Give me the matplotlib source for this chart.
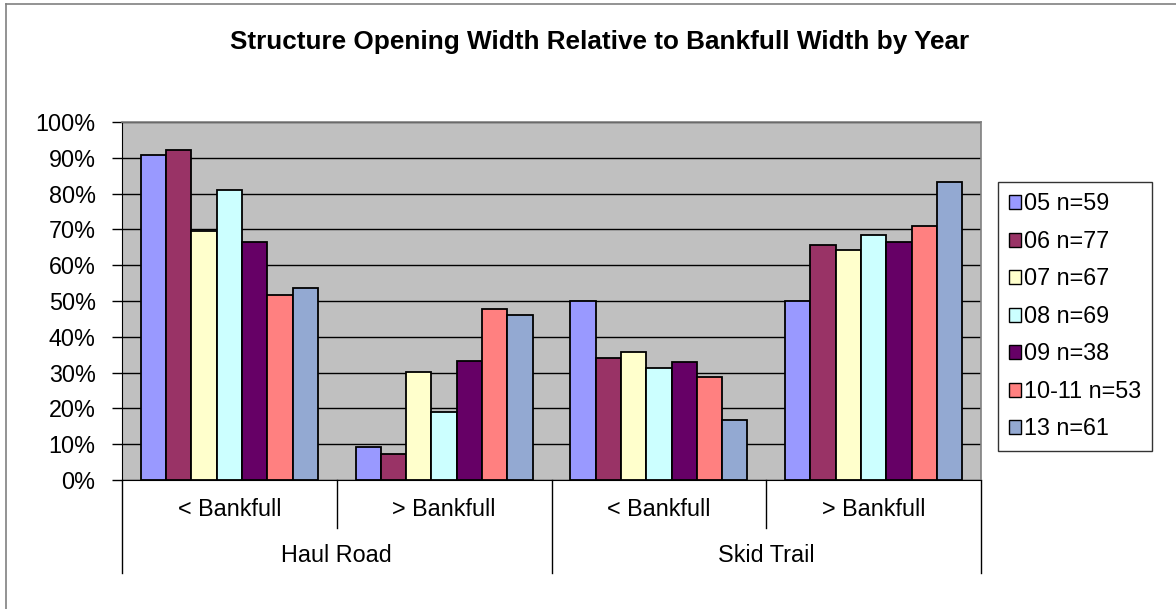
import numpy as np
import matplotlib
matplotlib.use("Agg")
import matplotlib.pyplot as plt
import matplotlib.transforms as mtransforms

plt.rcParams['font.family'] = ['Liberation Sans', 'DejaVu Sans']

# Data
groups = ["Haul Road", "Skid Trail"]
subcats = ["< Bankfull", "> Bankfull", "< Bankfull", "> Bankfull"]
series = ["05 n=59", "06 n=77", "07 n=67", "08 n=69", "09 n=38", "10-11 n=53", "13 n=61"]
colors = ["#9999FF", "#993366", "#FFFFCC", "#CCFFFF", "#660066", "#FF8080", "#93A9D2"]

v05 = [90.7, 9.3, 50.0, 50.0]
v06 = [92.1, 7.4, 34.2, 65.6]
v07 = [69.6, 30.2, 35.7, 64.2]
v08 = [80.9, 19.1, 31.4, 68.4]
v09 = [66.5, 33.3, 33.1, 66.5]
v10 = [51.8, 47.8, 28.8, 70.9]
v13 = [53.7, 46.2, 16.7, 83.3]
values = [v05, v06, v07, v08, v09, v10, v13]

yticks = np.arange(0, 101, 10)
ytick_labels = [f"{t}%" for t in yticks]

FS = 16.8

fig = plt.figure(figsize=(11.76, 6.09), dpi=100)
fig.patch.set_facecolor("white")
ax = fig.add_axes([122 / 1176, 1 - 480 / 609, (981 - 122) / 1176, (480 - 122) / 609])
ax.set_facecolor("#C0C0C0")

# outer chart border (top and left)
fig.add_artist(plt.Line2D([6 / 1176, 6 / 1176], [0, 1 - 4 / 609], transform=fig.transFigure,
                          color="#808080", lw=1.2))
fig.add_artist(plt.Line2D([6 / 1176, 1], [1 - 4 / 609, 1 - 4 / 609], transform=fig.transFigure,
                          color="#808080", lw=1.2))

n = len(series)
bw = 1 / (n + 1.5)
x = np.arange(len(subcats))
for i, (vals, c, lab) in enumerate(zip(values, colors, series)):
    offs = (i - (n - 1) / 2) * bw
    ax.bar(x + offs, vals, width=bw, color=c, edgecolor="black", linewidth=1.3,
           label=lab, zorder=3)

ax.set_xlim(-0.5, len(subcats) - 0.5)
ax.set_ylim(0, 100)
ax.set_yticks(yticks)
ax.set_yticklabels(ytick_labels, fontsize=FS)
ax.yaxis.grid(True, color="black", linewidth=1.0, zorder=0)
ax.set_axisbelow(True)
ax.tick_params(axis="y", length=7, width=1, pad=12, colors="black")
ax.set_xticks([])
for s in ["top", "right"]:
    ax.spines[s].set_color("#808080")
    ax.spines[s].set_linewidth(1.2)
ax.spines["left"].set_color("black")
ax.spines["bottom"].set_color("black")

# category axis (two levels)
trans = mtransforms.blended_transform_factory(ax.transData, ax.transAxes)
ph = 480 - 122
for xb in [-0.5, 0.5, 1.5, 2.5, 3.5]:
    depth = 93 if xb in (-0.5, 1.5, 3.5) else 48
    ax.plot([xb, xb], [0, -depth / ph], transform=trans, color="black", lw=1,
            clip_on=False)
for xi, lab in zip(x, subcats):
    ax.text(xi, -30 / ph, lab, transform=trans, ha="center", va="center", fontsize=FS)
for gi, g in enumerate(groups):
    ax.text(0.5 + 2 * gi, -76 / ph, g, transform=trans, ha="center", va="center",
            fontsize=FS)

fig.text(600 / 1176, 1 - 42 / 609, "Structure Opening Width Relative to Bankfull Width by Year",
         ha="center", va="center", fontsize=18.8, fontweight="bold")

leg = fig.legend(loc="upper left", bbox_to_anchor=(998 / 1176, 1 - 182 / 609),
                 bbox_transform=fig.transFigure, frameon=True, fancybox=False,
                 edgecolor="black", fontsize=FS, handlelength=0.55, handleheight=0.55,
                 handletextpad=0.12, labelspacing=0.62, borderpad=0.45, borderaxespad=0)
leg.get_frame().set_linewidth(1.0)
for h in leg.legend_handles:
    h.set_linewidth(1.0)

fig.savefig("out.png", dpi=100, facecolor="white")
